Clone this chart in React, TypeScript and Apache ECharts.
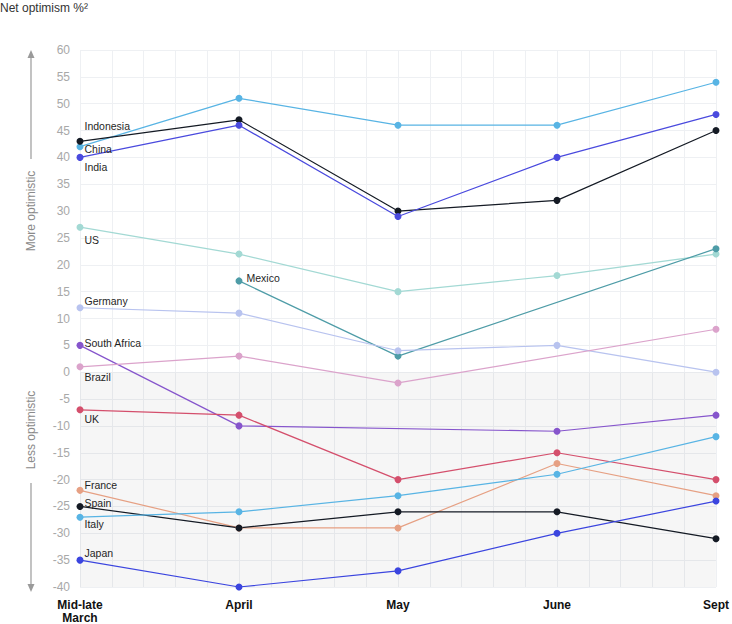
import React, { useEffect, useRef } from "react";
import * as echarts from "echarts";

const periods = ["Mid-late\nMarch", "April", "May", "June", "Sept"];
const yTicks = { min: -40, max: 60, interval: 5 };

const china = [42, 51, 46, 46, 54];
const indonesia = [43, 47, 30, 32, 45];
const india = [40, 46, 29, 40, 48];
const us = [27, 22, 15, 18, 22];
const mexico = [null, 17, 3, null, 23];
const germany = [12, 11, 4, 5, 0];
const southAfrica = [5, -10, null, -11, -8];
const brazil = [1, 3, -2, null, 8];
const uk = [-7, -8, -20, -15, -20];
const france = [-22, -29, -29, -17, -23];
const spain = [-25, -29, -26, -26, -31];
const italy = [-27, -26, -23, -19, -12];
const japan = [-35, -40, -37, -30, -24];

const seriesDefs = [
  { name: "China", values: china, color: "#58b4e4", labelAt: 0, dy: 2 },
  { name: "Indonesia", values: indonesia, color: "#141a24", labelAt: 0, dy: -15 },
  { name: "India", values: india, color: "#4a4ade", labelAt: 0, dy: 10 },
  { name: "US", values: us, color: "#a3d9d4", labelAt: 0, dy: 13 },
  { name: "Mexico", values: mexico, color: "#4e9ca7", labelAt: 1, dy: -3 },
  { name: "Germany", values: germany, color: "#b8c3ef", labelAt: 0, dy: -7 },
  { name: "South Africa", values: southAfrica, color: "#8655cc", labelAt: 0, dy: -2 },
  { name: "Brazil", values: brazil, color: "#dba3cb", labelAt: 0, dy: 10 },
  { name: "UK", values: uk, color: "#d44f6c", labelAt: 0, dy: 9 },
  { name: "France", values: france, color: "#e6a083", labelAt: 0, dy: -5 },
  { name: "Spain", values: spain, color: "#141a24", labelAt: 0, dy: -3 },
  { name: "Italy", values: italy, color: "#58b4e4", labelAt: 0, dy: 7 },
  { name: "Japan", values: japan, color: "#3b45df", labelAt: 0, dy: -7 },
];

const STEP = 5;
const FONT = "'Liberation Sans', Arial, sans-serif";

export default function App() {
  const ref = useRef<HTMLDivElement>(null);
  useEffect(() => {
    if (!ref.current) return;
    const chart = echarts.init(ref.current, null, { renderer: "svg" });
    const series: any[] = seriesDefs.map((s, si) => ({
      type: "line",
      name: s.name,
      connectNulls: true,
      symbol: "circle",
      symbolSize: 7,
      showSymbol: true,
      lineStyle: { color: s.color, width: 1.2 },
      itemStyle: { color: s.color },
      z: 3,
      data: s.values.map((v, i) => {
        const item: any = { value: [i * STEP, v] };
        if (i === s.labelAt) {
          item.label = {
            show: true,
            position: "right",
            distance: s.name === "Mexico" ? 4 : 1,
            offset: [0, s.dy],
            formatter: s.name,
            color: "#1f1f1f",
            fontSize: 10.5,
            fontFamily: FONT,
          };
        }
        return item;
      }),
      ...(si === 0
        ? {
            markArea: {
              silent: true,
              itemStyle: { color: "rgba(0,0,0,0.035)" },
              data: [[{ coord: [0, 0] }, { coord: [20, -40] }]],
            },
          }
        : {}),
    }));

    chart.setOption({
      animation: false,
      textStyle: { fontFamily: FONT },
      grid: { left: 80, right: 13, top: 50, bottom: 37, containLabel: false },
      xAxis: {
        type: "value",
        min: 0,
        max: (periods.length - 1) * STEP,
        interval: 1,
        axisLine: { show: false },
        axisTick: { show: false },
        splitLine: { show: true, lineStyle: { color: "#eef0f3", width: 1 } },
        axisLabel: {
          margin: 11,
          color: "#111",
          fontWeight: "bold",
          fontSize: 12,
          lineHeight: 13,
          fontFamily: FONT,
          formatter: (v: number) => (v % STEP === 0 ? periods[v / STEP] : ""),
        },
      },
      yAxis: {
        type: "value",
        min: yTicks.min,
        max: yTicks.max,
        interval: yTicks.interval,
        axisLine: { show: false },
        axisTick: { show: false },
        splitLine: { show: true, lineStyle: { color: "#eef0f3", width: 1 } },
        axisLabel: { color: "#a8a8a8", fontSize: 12, margin: 10, fontFamily: FONT },
      },
      graphic: [
        {
          type: "text",
          left: 0,
          top: 2,
          style: { text: "Net optimism %²", fill: "#333", fontSize: 12, fontFamily: FONT },
        },
        {
          type: "line",
          shape: { x1: 31, y1: 56, x2: 31, y2: 159 },
          style: { stroke: "#9a9a9a", lineWidth: 1.2 },
        },
        {
          type: "polygon",
          shape: { points: [[31, 50], [27.5, 58], [34.5, 58]] },
          style: { fill: "#9a9a9a" },
        },
        {
          type: "text",
          x: 31,
          y: 211,
          rotation: Math.PI / 2,
          style: {
            text: "More optimistic",
            fill: "#8a8a8a",
            fontSize: 12,
            fontFamily: FONT,
            align: "center",
            verticalAlign: "middle",
          },
        },
        {
          type: "text",
          x: 31,
          y: 430,
          rotation: Math.PI / 2,
          style: {
            text: "Less optimistic",
            fill: "#8a8a8a",
            fontSize: 12,
            fontFamily: FONT,
            align: "center",
            verticalAlign: "middle",
          },
        },
        {
          type: "line",
          shape: { x1: 31, y1: 483, x2: 31, y2: 586 },
          style: { stroke: "#9a9a9a", lineWidth: 1.2 },
        },
        {
          type: "polygon",
          shape: { points: [[31, 592], [27.5, 584], [34.5, 584]] },
          style: { fill: "#9a9a9a" },
        },
      ],
      series,
    });
    return () => chart.dispose();
  }, []);
  return (
    <div
      ref={ref}
      style={{ position: "fixed", left: 0, top: 0, width: 732, height: 624, background: "#fff" }}
    />
  );
}
